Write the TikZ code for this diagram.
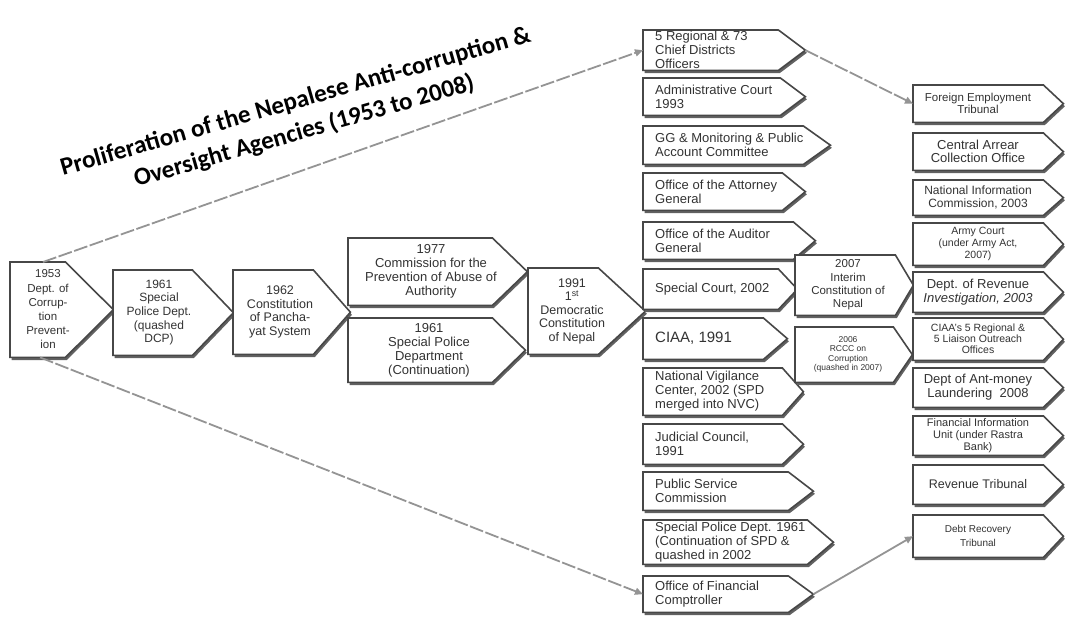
\documentclass[tikz,border=0pt]{standalone}
\usepackage{fontspec}
\setmainfont{Liberation Sans}
\newfontfamily\titlefont{Carlito}
\usetikzlibrary{arrows.meta}
\pgfdeclarelayer{background}
\pgfsetlayers{background,main}
\newcommand\fs[2]{\fontsize{#1pt}{#2pt}\selectfont}
\tikzset{
  boxline/.style={draw=black!72, line width=1.6pt, fill=white, line join=miter},
  boxshadow/.style={fill=black!62},
  txt/.style={inner sep=0pt, align=center, text=black!80, font=\fs{13}{14}},
  ltxt/.style={txt, anchor=west, align=left},
  link/.style={draw=black!42, line width=1.8pt, -{Triangle[length=8pt,width=7pt]}},
  dlink/.style={link, dash pattern=on 14pt off 2.5pt},
}
% #1 name, #2 x left, #3 y top, #4 x body right, #5 x tip, #6 y bottom, #7 text x, #8 text options, #9 text
\newcommand\PB[9]{%
  \node[inner sep=0pt, minimum width={#4pt-#2pt}, minimum height={#6pt-#3pt}, anchor=north west] (#1) at (#2,#3) {};
  \coordinate (#1-tip) at ([xshift={#5pt-#4pt}]#1.east);
  \begin{pgfonlayer}{background}
    \fill[boxshadow] ([shift={(1.5pt,-2.6pt)}]#1.north west) -- ([shift={(1.5pt,-2.6pt)}]#1.north east)
      -- ([shift={(1.5pt,-2.6pt)}]#1-tip) -- ([shift={(1.5pt,-2.6pt)}]#1.south east)
      -- ([shift={(1.5pt,-2.6pt)}]#1.south west) -- cycle;
    \filldraw[boxline] (#1.north west) -- (#1.north east) -- (#1-tip) -- (#1.south east) -- (#1.south west) -- cycle;
  \end{pgfonlayer}
  \node[txt, #8] (#1-t) at (#7, {(#3+#6)/2}) {#9};
}
\begin{document}
\begin{tikzpicture}[x=1pt, y=-1pt]
\begin{pgfonlayer}{background}
\fill[white] (0,0) rectangle (1070,618);
\end{pgfonlayer}
\useasboundingbox (0,0) rectangle (1070,618);

% title
\node[rotate=16, align=center, inner sep=0pt, font=\titlefont\bfseries\fs{25}{31}, text=black] (title) at (300,117)
  {Proliferation of the Nepalese Anti-corruption \&\\Oversight Agencies (1953 to 2008)};

% left chain
\PB{b53}{10}{262}{65}{113}{357}{48}{font=\fs{11.5}{14.2}}{1953\\Dept. of\\Corrup-\\tion\\Prevent-\\ion}
\PB{b61}{113}{270}{192}{233}{355}{159}{font=\fs{12}{13.7}}{1961\\Special\\Police Dept.\\(quashed\\DCP)}
\PB{b62}{233}{270}{313}{350}{354}{280}{font=\fs{12.5}{13.5}}{1962\\Constitution\\of Pancha-\\yat System}
\PB{b77}{348}{238}{492}{527}{305}{431}{}{1977\\Commission for the\\Prevention of Abuse of\\Authority}
\PB{b61s}{348}{318}{492}{525}{382}{429}{}{1961\\Special Police\\Department\\(Continuation)}
\PB{b91}{528}{268}{598}{645}{354}{572}{font=\fs{12.5}{13.5}}{1991\\1\textsuperscript{st}\\Democratic\\Constitution\\of Nepal}

% middle column
\PB{reg}{643}{30}{778}{805}{70}{655}{ltxt}{5 Regional \& 73\\Chief Districts\\Officers}
\PB{adm}{643}{78}{780}{805}{115}{655}{ltxt}{Administrative Court\\1993}
\PB{gg}{643}{126}{803}{830}{164}{655}{ltxt}{GG \& Monitoring \& Public\\Account Committee}
\PB{att}{643}{173}{782}{805}{210}{655}{ltxt}{Office of the Attorney\\General}
\PB{aud}{643}{222}{793}{815}{259}{655}{ltxt}{Office of the Auditor\\General}
\PB{spc}{643}{269}{778}{797}{309}{655}{ltxt}{Special Court, 2002}
\PB{ciaa}{643}{318}{763}{787}{359}{655}{ltxt, font=\fs{15}{17}}{CIAA, 1991}
\PB{nvc}{643}{368}{782}{803}{415}{655}{ltxt}{National Vigilance\\Center, 2002 (SPD\\merged into NVC)}
\PB{jc}{643}{424}{782}{803}{464}{655}{ltxt}{Judicial Council,\\1991}
\PB{psc}{643}{472}{788}{813}{510}{655}{ltxt}{Public Service\\Commission}
\PB{spd}{643}{520}{807}{833}{564}{655}{ltxt}{Special Police Dept. 1961\\(Continuation of SPD \&\\quashed in 2002}
\PB{fin}{643}{576}{788}{813}{612}{655}{ltxt}{Office of Financial\\Comptroller}

% interim / RCCC
\PB{int}{795}{255}{895}{913}{315}{848}{font=\fs{11.5}{13.3}}{2007\\Interim\\Constitution of\\Nepal}
\PB{rcc}{795}{327}{893}{912}{382}{848}{font=\fs{8.5}{9.3}}{2006\\RCCC on\\Corruption\\(quashed in 2007)}

% right column
\PB{fet}{913}{85}{1043}{1063}{122}{978}{font=\fs{11.5}{12.5}}{Foreign Employment\\Tribunal}
\PB{caco}{913}{133}{1043}{1063}{170}{978}{font=\fs{13}{13.5}}{Central Arrear\\Collection Office}
\PB{nic}{913}{180}{1043}{1063}{215}{978}{font=\fs{12}{13.3}}{National Information\\Commission, 2003}
\PB{arm}{913}{223}{1043}{1063}{265}{978}{font=\fs{10.5}{11.7}}{Army Court\\(under Army Act,\\2007)}
\PB{drv}{913}{272}{1043}{1063}{312}{978}{font=\fs{13}{14}}{Dept. of Revenue\\\textit{Investigation, 2003}}
\PB{ciaa5}{913}{318}{1043}{1063}{360}{978}{font=\fs{10.5}{11}}{CIAA's 5 Regional \&\\5 Liaison Outreach\\Offices}
\PB{dam}{913}{368}{1043}{1063}{407}{978}{font=\fs{13}{14}}{Dept of Ant-money\\Laundering\ \ 2008}
\PB{fiu}{913}{416}{1043}{1063}{455}{978}{font=\fs{11}{12}}{Financial Information\\Unit (under Rastra\\Bank)}
\PB{rvt}{913}{465}{1043}{1063}{504}{978}{font=\fs{12.5}{14}}{Revenue Tribunal}
\PB{drt}{913}{515}{1043}{1063}{557}{978}{font=\fs{10}{14}}{Debt Recovery\\Tribunal}

% connectors
\draw[dlink] ([xshift=33pt]b53.north west) -- (reg.west);
\draw[dlink] ([xshift=30pt]b53.south west) -- (fin.west);
\draw[dlink] (reg-tip) -- (fet.west);
\draw[link] (fin-tip) -- (drt.west);
\end{tikzpicture}
\end{document}
